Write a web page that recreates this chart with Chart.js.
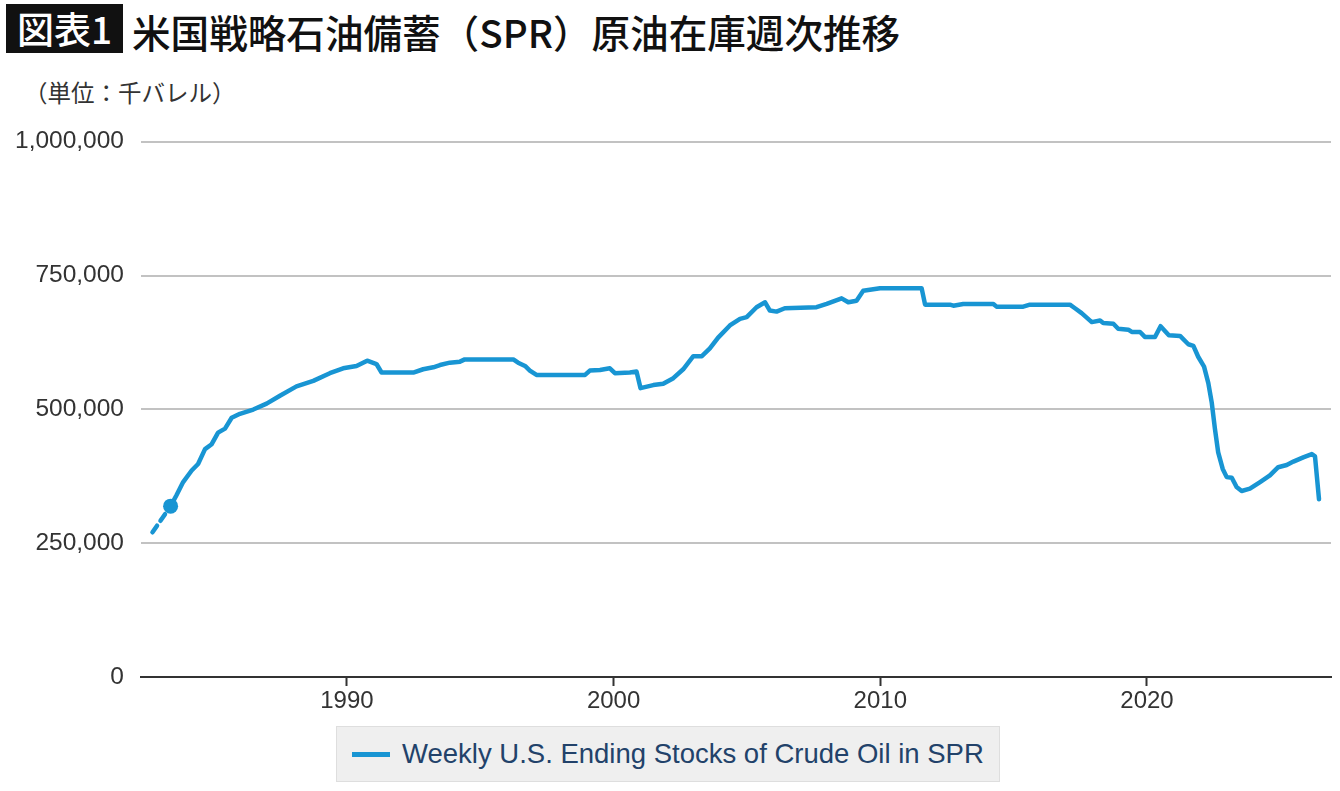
<!DOCTYPE html>
<html lang="ja">
<head>
<meta charset="utf-8">
<script src="https://cdn.jsdelivr.net/npm/chart.js@4.4.0/dist/chart.umd.min.js"></script>
<style>
  html, body { margin: 0; padding: 0; background: #fff; }
  body { width: 1340px; height: 791px; position: relative; overflow: hidden; font-family: "Liberation Sans", Arial, sans-serif; }
  #tag { position: absolute; left: 6px; top: 4px; width: 117px; height: 49px; background: #111; color: #fff;
         font: 500 37px "Noto Sans CJK JP", sans-serif; line-height: 48px; text-align: center; }
  #title { position: absolute; left: 132px; top: 3px; height: 49px; line-height: 48px; color: #111;
           font: 500 38.6px "Noto Sans CJK JP", sans-serif; white-space: nowrap; }
  #unit { position: absolute; left: 24px; top: 75px; color: #333; font: 400 23.5px "Noto Sans CJK JP", sans-serif; white-space: nowrap; }
  #chart { position: absolute; left: 0; top: 110px; }
  #legend { position: absolute; left: 336px; top: 726px; width: 662px; height: 54px; background: #efefef;
            border: 1px solid #dedede; display: flex; align-items: center; }
  #legend .sw { display: inline-block; width: 38px; height: 5px; margin-left: 15px; margin-right: 12px; }
  #legend .tx { font: 27.5px "Liberation Sans", Arial, sans-serif; color: #22426a; white-space: nowrap; }
</style>
</head>
<body>
<div id="tag">図表1</div>
<div id="title">米国戦略石油備蓄（SPR）原油在庫週次推移</div>
<div id="unit">（単位：千バレル）</div>
<canvas id="chart" width="1340" height="600"></canvas>
<div id="legend"></div>
<script>
const seriesLabel = "Weekly U.S. Ending Stocks of Crude Oil in SPR";

// week dates as decimal years
const years = [
  1982.71, 1983.39, 1983.61, 1983.86, 1984.18, 1984.42, 1984.68, 1984.93, 1985.17, 1985.43,
  1985.68, 1985.99, 1986.49, 1986.99, 1987.49, 1988.11, 1988.74, 1989.36, 1989.86, 1990.36,
  1990.76, 1991.11, 1991.30, 1992.49, 1992.86, 1993.24, 1993.49, 1993.86, 1994.24, 1994.42,
  1996.24, 1996.42, 1996.68, 1996.86, 1997.11, 1998.93, 1999.11, 1999.49, 1999.86, 2000.05,
  2000.61, 2000.86, 2001.01, 2001.49, 2001.86, 2002.24, 2002.61, 2002.99, 2003.31, 2003.61,
  2003.92, 2004.36, 2004.74, 2004.99, 2005.36, 2005.68, 2005.86, 2006.11, 2006.42, 2007.61,
  2007.99, 2008.55, 2008.80, 2009.11, 2009.36, 2009.99, 2011.55, 2011.68, 2012.61, 2012.74,
  2013.11, 2014.24, 2014.36, 2015.36, 2015.61, 2017.11, 2017.30, 2017.55, 2017.93, 2018.24,
  2018.36, 2018.74, 2018.92, 2019.30, 2019.43, 2019.74, 2019.92, 2020.30, 2020.51, 2020.82,
  2021.24, 2021.55, 2021.74, 2021.92, 2022.14, 2022.30, 2022.43, 2022.55, 2022.67, 2022.84,
  2022.99, 2023.18, 2023.36, 2023.55, 2023.86, 2024.24, 2024.61, 2024.92, 2025.24, 2025.49,
  2025.86, 2026.18, 2026.30, 2026.45
];

// thousand barrels
const stocks = [
  270400, 319200, 339600, 364100, 385800, 398000, 425700, 434900, 456600, 464000,
  484300, 491700, 499600, 510700, 525500, 542900, 553200, 567500, 576700, 581000,
  590900, 584700, 568800, 568800, 574900, 578600, 582800, 587200, 589100, 593300,
  593300, 587200, 581000, 572500, 564300, 564300, 572500, 573600, 576700, 567500,
  568800, 570600, 539700, 545300, 547700, 558200, 574900, 599400, 599400, 613700,
  634000, 656700, 669100, 672300, 690800, 700000, 684500, 682600, 688900, 690800,
  696900, 707400, 700000, 703000, 721400, 726400, 726400, 695600, 695600, 693700,
  696900, 696900, 691900, 691900, 695600, 695600, 688900, 679700, 663000, 666000,
  661200, 659900, 650600, 648800, 644500, 644500, 635300, 635300, 655300, 638600,
  637100, 621600, 618700, 598300, 579900, 549000, 512000, 462700, 419600, 388700,
  373400, 372100, 354900, 347500, 351800, 364100, 376500, 391900, 396100, 402400,
  410400, 416500, 412200, 332200
];

const xTicks = [1990, 2000, 2010, 2020];
const yTicks = [0, 250000, 500000, 750000, 1000000];
const markIndex = 1; // highlighted point, dashed before it

const lineColor = "#1895d3";

const chart = new Chart(document.getElementById("chart"), {
  type: "line",
  data: {
    datasets: [{
      label: seriesLabel,
      data: years.map((x, i) => ({ x: x, y: stocks[i] })),
      borderColor: lineColor,
      backgroundColor: lineColor,
      borderWidth: 4.5,
      tension: 0,
      borderJoinStyle: "round",
      borderCapStyle: "round",
      pointRadius: ctx => ctx.dataIndex === markIndex ? 7.5 : 0,
      pointBorderWidth: 0,
      pointBackgroundColor: lineColor,
      segment: {
        borderDash: ctx => ctx.p0DataIndex < markIndex ? [8, 6] : undefined
      }
    }]
  },
  options: {
    responsive: false,
    animation: false,
    devicePixelRatio: 1,
    layout: { autoPadding: false, padding: { top: 26, right: 9, left: 0, bottom: 0 } },
    plugins: { legend: { display: false }, tooltip: { enabled: false } },
    scales: {
      x: {
        type: "linear",
        min: 1982.28,
        max: 2026.9,
        afterBuildTicks: s => { s.ticks = xTicks.map(v => ({ value: v })); },
        afterFit: s => { s.height = 33; },
        grid: { drawOnChartArea: false, drawTicks: true, tickLength: 9, tickWidth: 2, tickColor: "#333" },
        border: { display: true, color: "#333", width: 2 },
        ticks: {
          padding: 1,
          color: "#333",
          font: { family: "'Liberation Sans', Arial, sans-serif", size: 24 },
          callback: v => String(v)
        }
      },
      y: {
        min: 0,
        max: 1000000,
        afterBuildTicks: s => { s.ticks = yTicks.map(v => ({ value: v })); },
        afterFit: s => { s.width = 141; },
        grid: {
          drawTicks: false,
          lineWidth: 2,
          color: ctx => ctx.tick && ctx.tick.value === 0 ? "#333" : "#c2c2c2"
        },
        border: { display: false },
        ticks: {
          padding: 17,
          color: "#333",
          font: { family: "'Liberation Sans', Arial, sans-serif", size: 24.5 },
          callback: v => v.toLocaleString("en-US")
        }
      }
    }
  }
});

// legend box under the chart, built from the dataset
const ds = chart.data.datasets[0];
document.getElementById("legend").innerHTML =
  '<span class="sw" style="background:' + ds.borderColor + '"></span><span class="tx">' + ds.label + '</span>';
</script>
</body>
</html>
